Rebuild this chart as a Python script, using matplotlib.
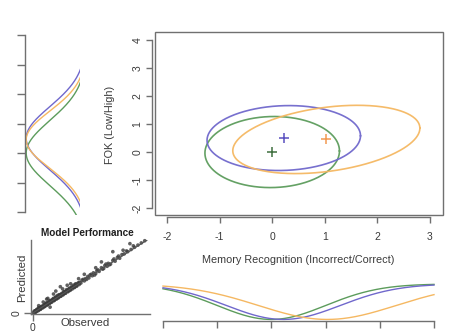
import numpy as np
import matplotlib
matplotlib.use("Agg")
import matplotlib.pyplot as plt
from matplotlib.patches import Rectangle

plt.rcParams['font.family'] = ['Liberation Sans', 'DejaVu Sans']

# ---------------- data ----------------
groups = ["green", "blue", "orange"]
colors = ["#5c9c5c", "#7068cc", "#f5b862"]
cross_colors = ["#3f6f3f", "#5a50c0", "#f29a52"]

# group means (Memory Recognition, FOK)
mean_x = [0.00, 0.22, 1.03]
mean_y = [0.00, 0.50, 0.45]

# ellipse half-widths / half-heights and correlation
ell_wx = [1.28, 1.46, 1.78]
ell_wy = [1.27, 1.16, 1.22]
ell_r = [0.03, 0.07, 0.33]

# marginal spreads
marg_sx = [1.00, 1.05, 1.27]
marg_sy = [1.10, 1.07, 0.97]

x_ticks = [-2, -1, 0, 1, 2, 3]
y_ticks = [-2, -1, 0, 1, 2, 3, 4]

# model performance (observed vs predicted)
observed = [0.00, 0.01, 0.02, 0.02, 0.03, 0.03, 0.04, 0.05, 0.05, 0.06, 0.07, 0.07,
            0.08, 0.09, 0.10, 0.10, 0.11, 0.12, 0.12, 0.13, 0.14, 0.15, 0.15, 0.16,
            0.17, 0.18, 0.18, 0.19, 0.20, 0.21, 0.22, 0.22, 0.23, 0.24, 0.25, 0.26,
            0.27, 0.28, 0.29, 0.30, 0.31, 0.32, 0.33, 0.34, 0.35, 0.36, 0.37, 0.38,
            0.40, 0.41, 0.42, 0.44, 0.45, 0.46, 0.48, 0.49, 0.50, 0.52, 0.53, 0.55,
            0.56, 0.58, 0.60, 0.61, 0.63, 0.65, 0.66, 0.68, 0.70, 0.72, 0.74, 0.76,
            0.78, 0.80, 0.83, 0.86, 0.89, 0.92, 0.95, 0.98,
            0.24, 0.20, 0.70, 0.79, 0.15, 0.45, 0.33, 0.05, 0.09, 0.13,
            0.015, 0.025, 0.035, 0.045, 0.055, 0.065, 0.075, 0.085, 0.095, 0.105,
            0.115, 0.125, 0.135, 0.145, 0.155, 0.165, 0.175, 0.185, 0.195, 0.205,
            0.215, 0.225, 0.235, 0.245, 0.255, 0.265, 0.275, 0.285, 0.295, 0.305,
            0.315, 0.325, 0.335, 0.345, 0.355, 0.365, 0.375, 0.385, 0.395, 0.405,
            0.43, 0.47, 0.51, 0.54, 0.57, 0.62, 0.64, 0.67, 0.71, 0.75, 0.82, 0.88,
            0.18, 0.26, 0.30, 0.12, 0.40, 0.55, 0.60, 0.85]
predicted = [0.01, 0.00, 0.03, 0.01, 0.04, 0.02, 0.05, 0.04, 0.07, 0.05, 0.08, 0.06,
             0.09, 0.08, 0.11, 0.09, 0.12, 0.11, 0.14, 0.12, 0.15, 0.14, 0.17, 0.15,
             0.18, 0.17, 0.20, 0.18, 0.22, 0.20, 0.23, 0.21, 0.25, 0.23, 0.26, 0.25,
             0.29, 0.27, 0.30, 0.31, 0.30, 0.34, 0.32, 0.35, 0.36, 0.35, 0.39, 0.37,
             0.41, 0.42, 0.41, 0.46, 0.44, 0.47, 0.50, 0.48, 0.52, 0.51, 0.55, 0.54,
             0.58, 0.57, 0.62, 0.60, 0.65, 0.64, 0.68, 0.67, 0.72, 0.71, 0.76, 0.75,
             0.80, 0.81, 0.84, 0.87, 0.90, 0.93, 0.96, 0.99,
             0.36, 0.30, 0.84, 0.86, 0.08, 0.53, 0.40, 0.10, 0.15, 0.20,
             0.03, 0.015, 0.05, 0.03, 0.07, 0.05, 0.09, 0.07, 0.11, 0.09,
             0.13, 0.11, 0.15, 0.13, 0.17, 0.15, 0.19, 0.17, 0.21, 0.19,
             0.24, 0.21, 0.25, 0.23, 0.27, 0.25, 0.29, 0.27, 0.32, 0.29,
             0.33, 0.31, 0.35, 0.33, 0.38, 0.35, 0.40, 0.37, 0.41, 0.39,
             0.45, 0.46, 0.53, 0.52, 0.59, 0.61, 0.67, 0.66, 0.74, 0.78, 0.85, 0.92,
             0.26, 0.33, 0.38, 0.19, 0.47, 0.62, 0.70, 0.95]

# ---------------- figure ----------------
W, H = 461, 334
fig = plt.figure(figsize=(W / 100, H / 100), dpi=100)
PT = 72 / 100  # points per pixel

def ax_px(x0, y0, x1, y1):
    return fig.add_axes([x0 / W, 1 - y1 / H, (x1 - x0) / W, (y1 - y0) / H])

axis_col = "#707070"
text_col = "#3a3a3a"

# ---------- main panel ----------
ax = ax_px(155, 32, 443, 215)
ax.set_xlim(-2.23, 3.25)
ax.set_ylim(-2.25, 4.29)
ax.add_patch(Rectangle((0, 0), 1, 1, transform=ax.transAxes, fill=False,
                       ec=axis_col, lw=1.0, clip_on=False))
for s in ["top", "right"]:
    ax.spines[s].set_visible(False)
ax.spines["bottom"].set_position(("outward", 2 * PT))
ax.spines["left"].set_position(("outward", 3 * PT))
ax.spines["bottom"].set_bounds(x_ticks[0], x_ticks[-1])
ax.spines["left"].set_bounds(y_ticks[0], y_ticks[-1])
for s in ["bottom", "left"]:
    ax.spines[s].set_color(axis_col)
    ax.spines[s].set_linewidth(1.0)
ax.set_xticks(x_ticks)
ax.set_yticks(y_ticks)
ax.set_xticklabels([str(v) for v in x_ticks])
ax.set_yticklabels([str(v) for v in y_ticks])
ax.tick_params(axis="both", length=4, width=1.0, color=axis_col,
               labelsize=7.5, labelcolor=text_col)
ax.tick_params(axis="x", pad=7)
ax.tick_params(axis="y", pad=3, labelrotation=90)
for lab in ax.get_yticklabels():
    lab.set_va("center")

t = np.linspace(0, 2 * np.pi, 400)
for i in range(3):
    ex = mean_x[i] + ell_wx[i] * np.cos(t)
    ey = mean_y[i] + ell_wy[i] * (ell_r[i] * np.cos(t) + np.sqrt(1 - ell_r[i] ** 2) * np.sin(t))
    ax.plot(ex, ey, color=colors[i], lw=1.2, alpha=0.95)
for i in range(3):
    ax.plot(mean_x[i], mean_y[i], marker="+", ms=7, mew=1.1, color=cross_colors[i])

fig.text(298 / W, 1 - 260 / H, "Memory Recognition (Incorrect/Correct)",
         ha="center", va="center", fontsize=7.8, color=text_col)
fig.text(110 / W, 1 - 125 / H, "FOK (Low/High)", rotation=90,
         ha="center", va="center", fontsize=7.8, color=text_col)

# ---------- left marginal (FOK) ----------
axl = ax_px(25, 28, 80, 215)
axl.set_xlim(1.02, 0.10)
axl.set_ylim(-2 - 3 / 29.5, 4 + 7 / 29.5)
yy = np.linspace(-2.5, 4.5, 400)
for i in range(3):
    f = np.exp(-0.5 * ((yy - mean_y[i]) / marg_sy[i]) ** 2)
    axl.plot(f, yy, color=colors[i], lw=1.0)
for s in ["top", "right", "bottom"]:
    axl.spines[s].set_visible(False)
axl.spines["left"].set_bounds(y_ticks[0], y_ticks[-1])
axl.spines["left"].set_color(axis_col)
axl.spines["left"].set_linewidth(1.0)
axl.set_yticks(y_ticks)
axl.set_yticklabels([])
axl.set_xticks([])
axl.tick_params(axis="y", length=6, width=1.0, color=axis_col)
axl.patch.set_visible(False)

# ---------- bottom marginal (Memory) ----------
axb = ax_px(163, 284, 434, 320.5)
axb.set_xlim(x_ticks[0], x_ticks[-1])
axb.set_ylim(1.03, 0.0)
xx = np.linspace(-2, 3, 400)
for i in range(3):
    f = np.exp(-0.5 * ((xx - mean_x[i]) / marg_sx[i]) ** 2)
    axb.plot(xx, f, color=colors[i], lw=1.0, clip_on=False)
for s in ["top", "right", "left"]:
    axb.spines[s].set_visible(False)
axb.spines["bottom"].set_color(axis_col)
axb.spines["bottom"].set_linewidth(1.0)
axb.set_xticks(x_ticks)
axb.set_xticklabels([])
axb.set_yticks([])
axb.tick_params(axis="x", length=5, width=1.0, color=axis_col)
axb.patch.set_visible(False)

# ---------- model performance ----------
axm = ax_px(31, 240, 150, 314)
axm.set_xlim(-0.0175, 1.026)
axm.set_ylim(-0.014, 1.0)
axm.scatter(observed, predicted, s=7, color="#3a3a3a", alpha=0.8,
            edgecolors="none", clip_on=False)
axm.plot([0, 1], [0, 1], color="#555555", lw=0.9)
for s in ["top", "right"]:
    axm.spines[s].set_visible(False)
for s in ["bottom", "left"]:
    axm.spines[s].set_color(axis_col)
    axm.spines[s].set_linewidth(1.0)
axm.set_xticks([0])
axm.set_yticks([0])
axm.set_xticklabels(["0"])
axm.set_yticklabels(["0"])
axm.tick_params(axis="both", length=5, width=1.0, color=axis_col,
                labelsize=7.5, labelcolor=text_col, pad=1.5)
axm.tick_params(axis="y", labelrotation=90)
for lab in axm.get_yticklabels():
    lab.set_va("center")
axm.patch.set_visible(False)

fig.text(87 / W, 1 - 233 / H, "Model Performance", ha="center", va="center",
         fontsize=7.2, fontweight="bold", color="#202020")
fig.text(85 / W, 1 - 323 / H, "Observed", ha="center", va="center",
         fontsize=8.2, color=text_col)
fig.text(22 / W, 1 - 278 / H, "Predicted", rotation=90, ha="center", va="center",
         fontsize=8.2, color=text_col)

fig.savefig("out.png", dpi=100)
